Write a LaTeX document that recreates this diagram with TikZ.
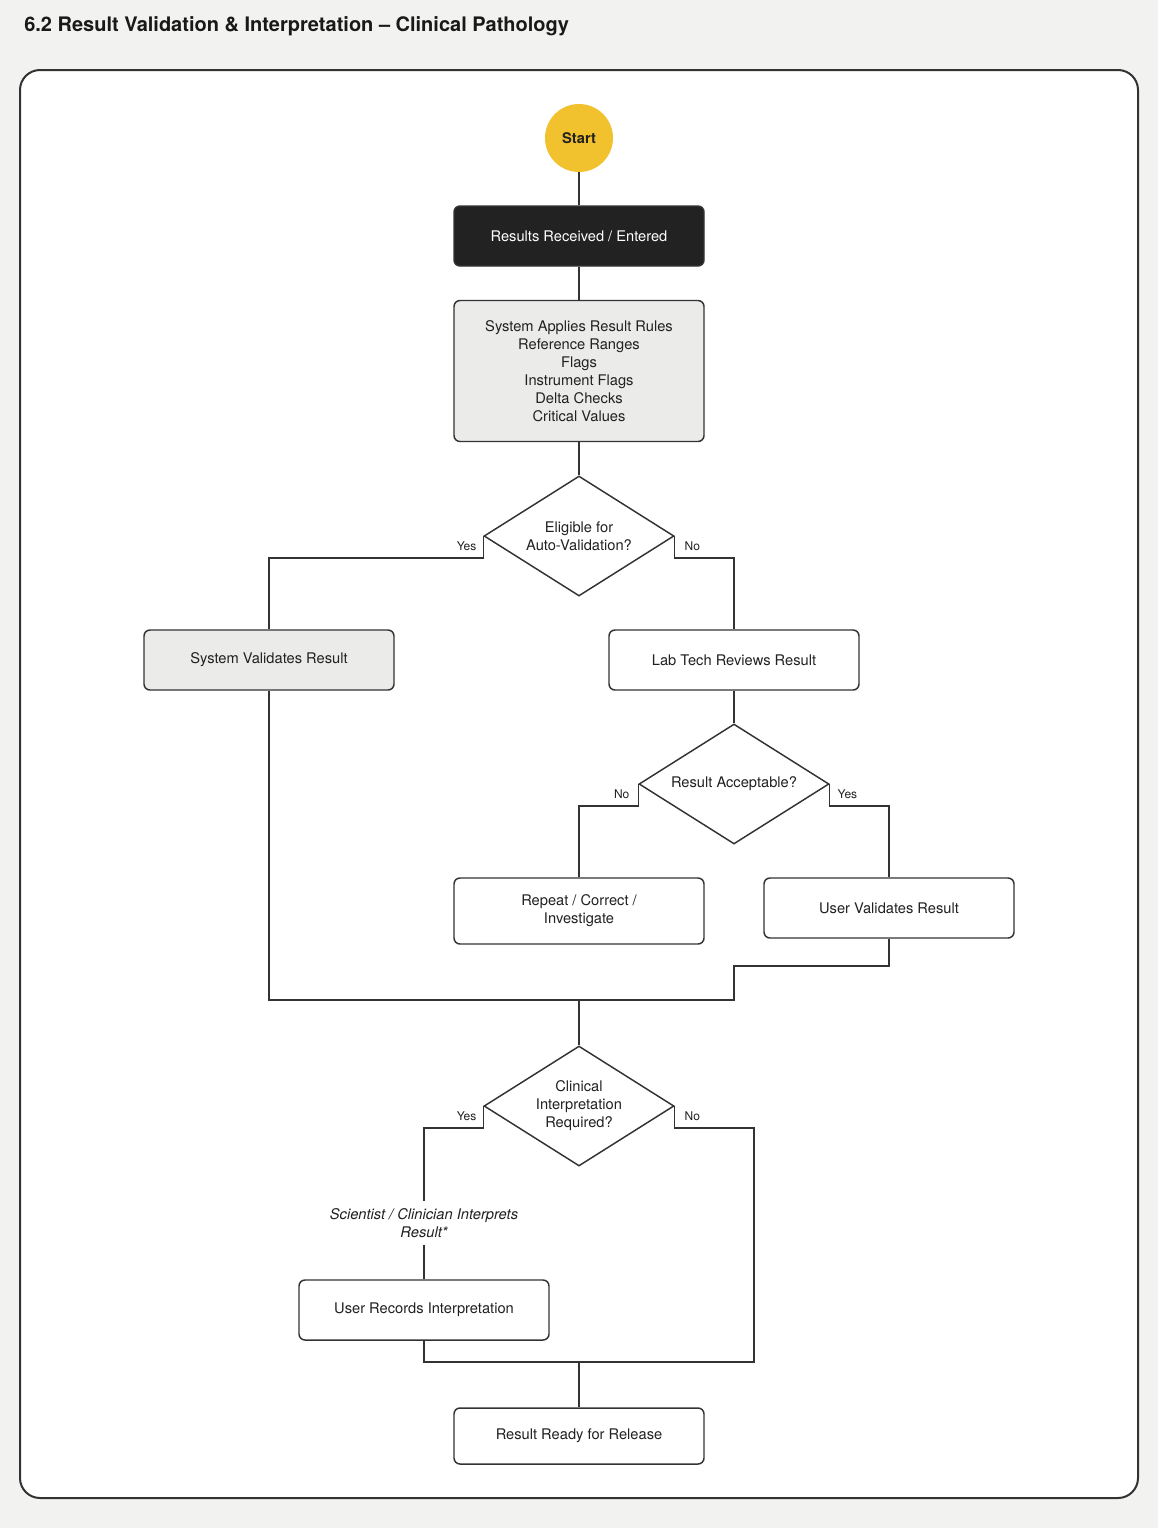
\documentclass[tikz,border=0pt]{standalone}
\usepackage{fontspec}
\setmainfont{TeX Gyre Heros}
\usetikzlibrary{shapes.geometric}

\definecolor{canvas}{HTML}{F2F2F0}
\definecolor{ink}{HTML}{333333}
\definecolor{startyellow}{HTML}{F2C12E}
\definecolor{boxgrey}{HTML}{EBEBE9}
\definecolor{boxdark}{HTML}{222222}

\tikzset{
  base box/.style={draw=ink, line width=1.1pt, rounded corners=4.5pt,
    minimum width=187.5pt, minimum height=45pt, inner sep=2pt, align=center,
    text=black!87, font=\fontsize{11}{13.5}\selectfont},
  plain box/.style={base box, fill=white},
  grey box/.style={base box, fill=boxgrey},
  dark box/.style={base box, fill=boxdark, text=white},
  decision/.style={diamond, aspect=1.583, draw=ink, line width=1.1pt, fill=white,
    minimum width=142.5pt, minimum height=90pt, inner sep=0pt, align=center,
    text=black!87, font=\fontsize{11}{13.5}\selectfont},
  start node/.style={circle, fill=startyellow, minimum size=51pt, inner sep=0pt,
    text=black!87, font=\bfseries\fontsize{11}{13}\selectfont},
  flow/.style={draw=ink, line width=1.1pt},
  branch label/.style={inner sep=1pt, text=black!87, font=\fontsize{9}{11}\selectfont},
  note label/.style={inner sep=5pt, align=center, text=black!87,
    font=\itshape\fontsize{11}{13.5}\selectfont}
}

\begin{document}
\begin{tikzpicture}[x=0.75pt, y=-0.75pt]
  %% canvas and frame
  \fill[canvas] (0,0) rectangle (1158,1528);
  \draw[ink, line width=1.5pt, fill=white, rounded corners=15pt] (20,70) rectangle (1138,1498);
  \node[anchor=west, inner sep=0pt, text=black!90, font=\bfseries\fontsize{15}{18}\selectfont]
    (title) at (24,26) {6.2 Result Validation \& Interpretation -- Clinical Pathology};

  %% nodes
  \node[start node] (start) at (579,138) {Start};
  \node[dark box] (recv) at (579,236) {Results Received / Entered};
  \node[grey box, minimum height=105.75pt] (rules) at (579,371)
    {System Applies Result Rules\\Reference Ranges\\Flags\\Instrument Flags\\Delta Checks\\Critical Values};
  \node[decision] (elig) at (579,536) {Eligible for\\Auto-Validation?};
  \node[grey box] (sysval) at (269,660) {System Validates Result};
  \node[plain box] (tech) at (734,660) {Lab Tech Reviews Result};
  \node[decision] (accept) at (734,784) {Result Acceptable?};
  \node[plain box, minimum height=49.5pt] (repeat) at (579,911) {Repeat / Correct /\\Investigate};
  \node[plain box] (userval) at (889,908) {User Validates Result};
  \node[decision] (clin) at (579,1106) {Clinical\\Interpretation\\Required?};
  \node[note label] (interp) at (424,1223) {Scientist / Clinician Interprets\\Result*};
  \node[plain box] (record) at (424,1310) {User Records Interpretation};
  \node[plain box, minimum height=42pt] (ready) at (579,1436) {Result Ready for Release};

  %% join points
  \coordinate (join) at (734,1000);
  \coordinate (jog) at (734,966);
  \coordinate (merge) at (579,1000);
  \coordinate (skip) at (754,1362);
  \coordinate (release) at (579,1362);

  %% connectors
  \draw[flow] (start) -- (recv);
  \draw[flow] (recv) -- (rules);
  \draw[flow] (rules) -- (elig);
  \draw[flow] (elig.west) -- ++(0,22) -| (sysval.north);
  \draw[flow] (elig.east) -- ++(0,22) -| (tech.north);
  \draw[flow] (tech) -- (accept);
  \draw[flow] (accept.west) -- ++(0,22) -| (repeat.north);
  \draw[flow] (accept.east) -- ++(0,22) -| (userval.north);
  \draw[flow] (sysval.south) |- (join) -- (jog) -| (userval.south);
  \draw[flow] (merge) -- (clin);
  \draw[flow] (clin.west) -- ++(0,22) -| (interp.north);
  \draw[flow] (interp.south) -- (record.north);
  \draw[flow] (clin.east) -- ++(0,22) -| (skip) -| (record.south);
  \draw[flow] (release) -- (ready);

  %% branch labels
  \node[branch label, anchor=east] (eligyes) at (478,546) {Yes};
  \node[branch label, anchor=west] (eligno) at (683,546) {No};
  \node[branch label, anchor=east] (acceptno) at (631,794) {No};
  \node[branch label, anchor=west] (acceptyes) at (836,794) {Yes};
  \node[branch label, anchor=east] (clinyes) at (478,1116) {Yes};
  \node[branch label, anchor=west] (clinno) at (683,1116) {No};
\end{tikzpicture}
\end{document}
